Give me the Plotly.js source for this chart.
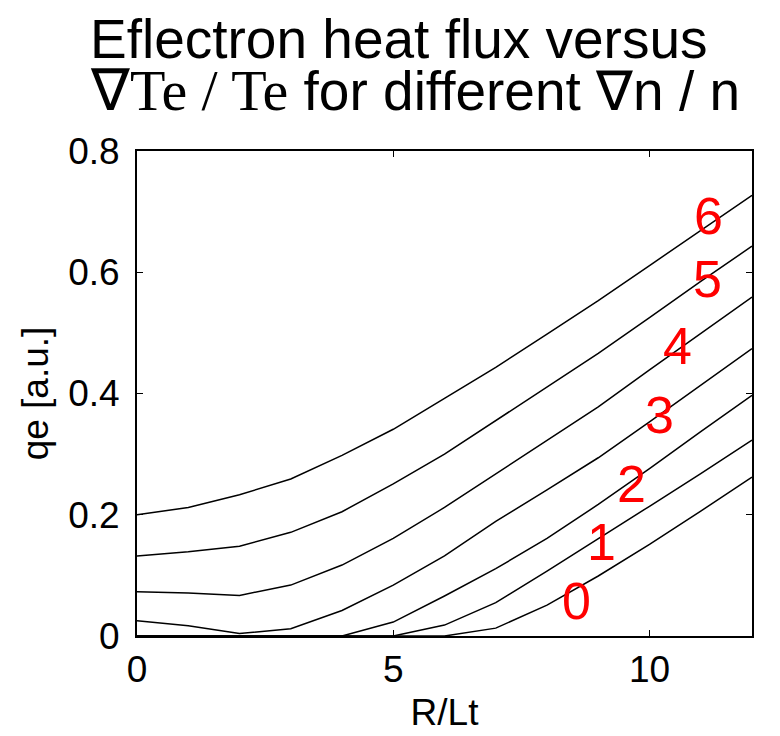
<!DOCTYPE html>
<html>
<head>
<meta charset="utf-8">
<script src="https://cdn.plot.ly/plotly-3.0.1.min.js"></script>
<style>
  html, body { margin: 0; padding: 0; background: #ffffff; }
  #chart { width: 780px; height: 736px; }
</style>
</head>
<body>
<div id="chart"></div>
<script>
// Normalized temperature gradient R/Lt (x axis)
const rlt = [0, 1, 2, 3, 4, 5, 6, 7, 8, 9, 10, 11, 12];

// Electron heat flux qe [a.u.] for density gradients R/Ln = 0 ... 6
const qe0 = [0, 0, 0, 0, 0, 0, 0, 0.013, 0.051, 0.099, 0.151, 0.206, 0.262];
const qe1 = [0, 0, 0, 0, 0, 0, 0.018, 0.055, 0.107, 0.160, 0.214, 0.268, 0.323];
const qe2 = [0, 0, 0, 0, 0, 0.023, 0.066, 0.111, 0.161, 0.217, 0.276, 0.337, 0.397];
const qe3 = [0.025, 0.017, 0.004, 0.012, 0.042, 0.084, 0.132, 0.189, 0.241, 0.294, 0.353, 0.413, 0.474];
const qe4 = [0.073, 0.071, 0.067, 0.084, 0.117, 0.161, 0.212, 0.267, 0.323, 0.378, 0.439, 0.499, 0.559];
const qe5 = [0.132, 0.139, 0.148, 0.171, 0.205, 0.251, 0.300, 0.355, 0.410, 0.466, 0.525, 0.585, 0.643];
const qe6 = [0.200, 0.212, 0.233, 0.259, 0.298, 0.341, 0.392, 0.443, 0.498, 0.553, 0.611, 0.669, 0.727];

// Curve tags (density gradient value) and where each tag sits in data space
const curveTags = ['0', '1', '2', '3', '4', '5', '6'];
const tagX = [8.58, 9.06, 9.64, 10.19, 10.55, 11.13, 11.16];
const tagY = [0.057, 0.155, 0.250, 0.364, 0.478, 0.589, 0.692];

// Axis ticks
const xTicks = [0, 5, 10];
const yTicks = [0, 0.2, 0.4, 0.6, 0.8];

const series = [qe0, qe1, qe2, qe3, qe4, qe5, qe6];
const SANS = 'Liberation Sans, Arial, Helvetica, sans-serif';
const SERIF = 'Liberation Serif, Times New Roman, serif';

const traces = series.map((ys, i) => ({
  x: rlt,
  y: ys,
  type: 'scatter',
  mode: 'lines',
  name: curveTags[i],
  line: { color: '#000000', width: 1.5 },
  hoverinfo: 'x+y'
}));

const tagAnnotations = curveTags.map((t, i) => ({
  x: tagX[i],
  y: tagY[i],
  xref: 'x',
  yref: 'y',
  text: t,
  showarrow: false,
  xanchor: 'center',
  yanchor: 'middle',
  font: { family: SANS, size: 52, color: '#ff0000' }
}));

// Two-line title, set as separate lines so the spacing between them stays tight
const titleLines = [
  {
    text: 'Eflectron heat flux versus',
    y: 1.231
  },
  {
    text: '<span style="font-family:' + SERIF + ';font-size:58px">\u2207Te / Te</span>' +
          ' for different ' +
          '<span style="font-family:' + SERIF + '">\u2207</span>n / n',
    y: 1.124
  }
].map(l => ({
  text: l.text,
  x: -0.080,
  y: l.y,
  xref: 'paper',
  yref: 'paper',
  xanchor: 'left',
  yanchor: 'middle',
  showarrow: false,
  font: { family: SANS, size: 55, color: '#000000' }
}));

const axisCommon = {
  showgrid: false,
  zeroline: false,
  showline: true,
  linecolor: '#000000',
  linewidth: 2,
  mirror: 'ticks',
  ticks: 'inside',
  ticklen: 6,
  tickwidth: 1,
  tickcolor: '#000000',
  tickfont: { family: SANS, size: 37, color: '#000000' }
};

const layout = {
  width: 780,
  height: 736,
  margin: { l: 137, r: 28, t: 151, b: 100 },
  paper_bgcolor: '#ffffff',
  plot_bgcolor: '#ffffff',
  showlegend: false,
  xaxis: Object.assign({}, axisCommon, {
    range: [0, 12],
    tickvals: xTicks,
    ticktext: xTicks.map(String),
    ticklabelstandoff: 0,
    title: { text: 'R/Lt', font: { family: SANS, size: 37, color: '#000000' }, standoff: 10 }
  }),
  yaxis: Object.assign({}, axisCommon, {
    range: [0, 0.8],
    tickvals: yTicks,
    ticktext: yTicks.map(v => String(v)),
    ticklabelstandoff: 8,
    title: { text: 'qe [a.u.]', font: { family: SANS, size: 37, color: '#000000' }, standoff: 8 }
  }),
  annotations: titleLines.concat(tagAnnotations)
};

Plotly.newPlot('chart', traces, layout, { staticPlot: true, displayModeBar: false });
</script>
</body>
</html>
